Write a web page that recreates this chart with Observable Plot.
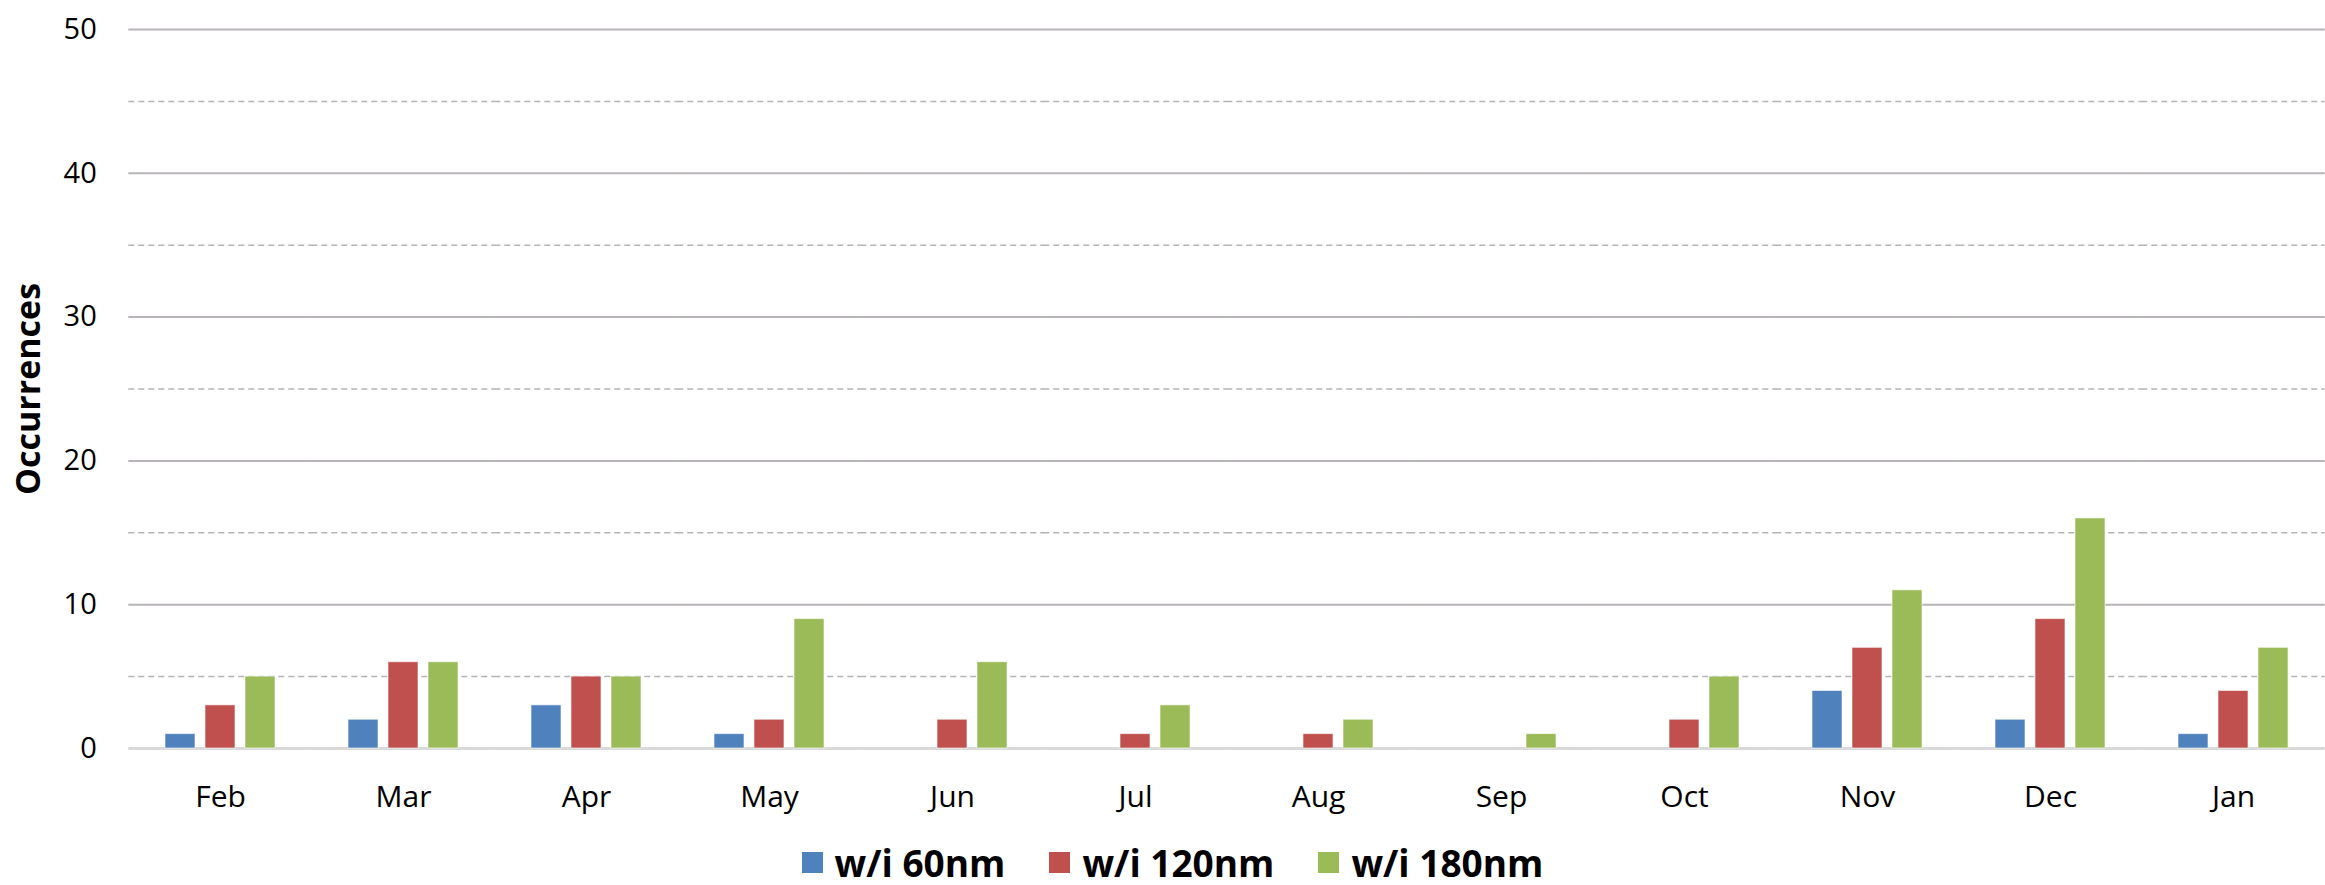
<!DOCTYPE html>
<html>
<head>
<meta charset="utf-8">
<script src="https://cdn.jsdelivr.net/npm/d3@7"></script>
<script src="https://cdn.jsdelivr.net/npm/@observablehq/plot@0.6"></script>
<style>
  html, body { margin: 0; padding: 0; background: #fff; }
  body { font-family: "Open Sans", sans-serif; width: 2325px; }
  #legend { display: flex; justify-content: center; align-items: center; height: 45px; padding-left: 20px; }
  .item { display: flex; align-items: center; margin: 0 22px; }
  .sw { width: 21px; height: 21px; margin-right: 12px; }
  .lbl { font-size: 37px; font-weight: bold; color: #000; line-height: 45px; }
</style>
</head>
<body>
<div id="chart"></div>
<div id="legend"></div>
<script>
const months = ["Feb","Mar","Apr","May","Jun","Jul","Aug","Sep","Oct","Nov","Dec","Jan"];
const series = ["w/i 60nm","w/i 120nm","w/i 180nm"];
const within60  = [1,2,3,1,0,0,0,0,0,4,2,1];
const within120 = [3,6,5,2,2,1,1,0,2,7,9,4];
const within180 = [5,6,5,9,6,3,2,1,5,11,16,7];
const colors = ["#4f81bd","#c0504d","#9bbb59"];
const majorTicks = [0,10,20,30,40,50];
const minorTicks = [5,15,25,35,45];
const yTitle = "Occurrences";

const values = [within60, within120, within180];
const data = [];
months.forEach((m, i) => series.forEach((s, j) => data.push({month: m, series: s, value: values[j][i]})));

const W = 2325, ML = 127, MR = 0;
const padInner = 0.39;
// half of the gap between month groups, so grid lines run continuously across groups
const halfGap = ((W - ML - MR) / months.length) * padInner / 2;

const chart = Plot.plot({
  width: W,
  height: 840,
  marginLeft: ML,
  marginRight: MR,
  marginTop: 29,
  marginBottom: 92,
  style: {fontFamily: "'Open Sans', sans-serif", fontSize: "30px", color: "#000", background: "#fff", overflow: "visible"},
  fx: {domain: months, paddingInner: padInner, paddingOuter: padInner / 2, axis: "bottom", label: null, tickSize: 0, tickPadding: 37},
  x: {domain: series, axis: null, paddingInner: 0.245, paddingOuter: 0},
  y: {domain: [0, 50], axis: null},
  color: {domain: series, range: colors},
  marks: [
    Plot.ruleY(minorTicks, {stroke: "#b4b4b4", strokeWidth: 1.5, strokeDasharray: "6,4", insetLeft: -halfGap, insetRight: -halfGap}),
    Plot.ruleY(majorTicks.slice(1), {stroke: "#b9b4b9", strokeWidth: 2, insetLeft: -halfGap, insetRight: -halfGap}),
    Plot.ruleY([0], {stroke: "#d9d9d9", strokeWidth: 3, insetLeft: -halfGap, insetRight: -halfGap}),
    Plot.axisY({ticks: majorTicks, tickSize: 0, tickPadding: 32 + halfGap, label: null, fontSize: 29}),
    Plot.barY(data, {fx: "month", x: "series", y: "value", fill: "series", stroke: "#ffffff", strokeOpacity: 0.6, strokeWidth: 1}),
    Plot.text([yTitle], {fx: [months[0]], frameAnchor: "left", dx: -100 - halfGap, rotate: -90, textAnchor: "middle", fontWeight: "bold", fontSize: 34})
  ]
});
document.getElementById("chart").appendChild(chart);

const legend = d3.select("#legend");
series.forEach((s, i) => {
  const it = legend.append("div").attr("class", "item");
  it.append("div").attr("class", "sw").style("background", colors[i]);
  it.append("span").attr("class", "lbl").text(s);
});
</script>
</body>
</html>
